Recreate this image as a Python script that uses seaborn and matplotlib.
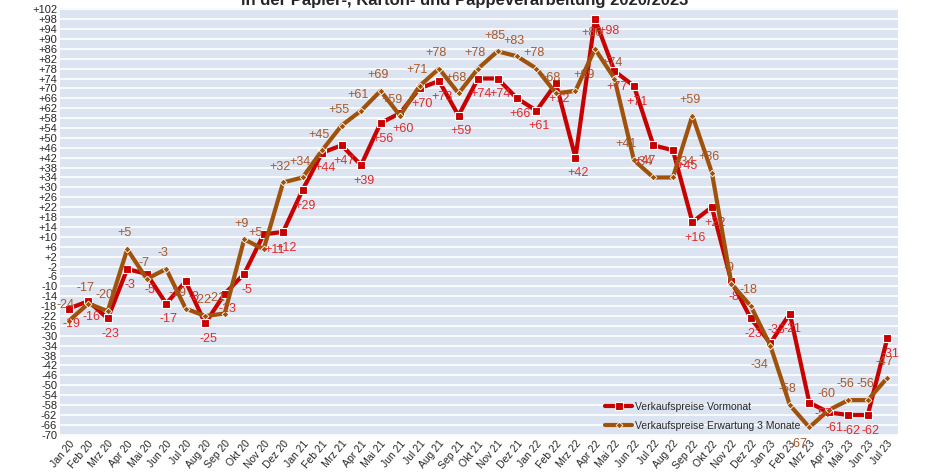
import numpy as np
import pandas as pd
import seaborn as sns
from matplotlib import pyplot as plt

months = ['Jan 20', 'Feb 20', 'Mrz 20', 'Apr 20', 'Mai 20', 'Jun 20', 'Jul 20', 'Aug 20', 'Sep 20', 'Okt 20',
          'Nov 20', 'Dez 20', 'Jan 21', 'Feb 21', 'Mrz 21', 'Apr 21', 'Mai 21', 'Jun 21', 'Jul 21', 'Aug 21',
          'Sep 21', 'Okt 21', 'Nov 21', 'Dez 21', 'Jan 22', 'Feb 22', 'Mrz 22', 'Apr 22', 'Mai 22', 'Jun 22',
          'Jul 22', 'Aug 22', 'Sep 22', 'Okt 22', 'Nov 22', 'Dez 22', 'Jan 23', 'Feb 23', 'Mrz 23', 'Apr 23',
          'Mai 23', 'Jun 23', 'Jul 23']

vormonat = [-19, -16, -23, -3, -5, -17, -8, -25, -13, -5, 11, 12,
            29, 44, 47, 39, 56, 60, 70, 73, 59, 74, 74, 66,
            61, 72, 42, 98, 77, 71, 47, 45, 16, 22, -8, -23,
            -33, -21, -57, -61, -62, -62, -31]

erwartung = [-24, -17, -20, 5, -7, -3, -19, -22, -21, 9, 5, 32,
             34, 45, 55, 61, 69, 59, 71, 78, 68, 78, 85, 83,
             78, 68, 69, 86, 74, 41, 34, 34, 59, 36, -9, -18,
             -34, -58, -67, -60, -56, -56, -47]

label_vormonat = 'Verkaufspreise Vormonat'
label_erwartung = 'Verkaufspreise Erwartung 3 Monate'
title = 'in der Papier-, Karton- und Pappeverarbeitung 2020/2023'

RED = '#c80000'
RED_TXT = '#e62828'
BROWN = '#a0520a'
BROWN_TXT = '#a8582a'

sns.set_style('white')
plt.rcParams['font.family'] = ['Liberation Sans', 'DejaVu Sans']

df = pd.DataFrame({'idx': np.arange(len(months)), 'month': months,
                   'vormonat': vormonat, 'erwartung': erwartung})

fig = plt.figure(figsize=(9.3, 4.72), dpi=100)
ax = fig.add_axes([60 / 930, 1 - 436 / 472, 838 / 930, 428 / 472])
ax.set_facecolor('#dbe4f0')

sns.lineplot(data=df, x='idx', y='vormonat', ax=ax, color=RED, linewidth=3,
             marker='s', markersize=6, markeredgecolor='white', markeredgewidth=0.8,
             label=label_vormonat, zorder=3)
sns.lineplot(data=df, x='idx', y='erwartung', ax=ax, color=BROWN, linewidth=3,
             marker='D', markersize=3.5, markeredgecolor='white', markeredgewidth=0.6,
             label=label_erwartung, zorder=4)

# a few labels nudged sideways where they pile up
brown_nudge = {6: (-6, 7), 8: (-6, 7), 10: (-6, 7), 17: (-6, 7), 25: (-4, 7), 26: (6, 7),
               29: (-6, 7), 30: (-8, 7), 31: (8, 7), 36: (-8, -18), 38: (-8, -16)}
red_nudge = {6: (6, -7), 10: (8, -7), 27: (10, -4), 30: (-6, -7), 31: (10, -7), 36: (4, 14),
             38: (10, -4), 39: (4, -7)}

for i, v in enumerate(erwartung):
    dx, dy = brown_nudge.get(i, (-2, 7))
    ax.annotate(f'{v:+d}', (i, v), xytext=(dx, dy), textcoords='offset points',
                ha='center', va='bottom', fontsize=9, color=BROWN_TXT, zorder=5)
for i, v in enumerate(vormonat):
    dx, dy = red_nudge.get(i, (2, -7))
    ax.annotate(f'{v:+d}', (i, v), xytext=(dx, dy), textcoords='offset points',
                ha='center', va='top', fontsize=9, color=RED_TXT, zorder=5)

yticks = np.arange(-70, 103, 4)
ax.set_yticks(yticks)
ax.set_yticklabels([f'{t:+d}' for t in yticks], fontsize=8)
ax.set_ylim(-70.5, 102.5)
ax.yaxis.grid(True, color='white', linewidth=1.2)
ax.set_axisbelow(True)

ax.set_xticks(df.idx)
ax.set_xticklabels(months, rotation=50, ha='right', rotation_mode='anchor', fontsize=7.5)
ax.set_xlim(-0.45, 42.55)
ax.tick_params(axis='both', length=0, pad=2)
ax.set_xlabel('')
ax.set_ylabel('')
for s in ax.spines.values():
    s.set_visible(False)

ax.legend(loc='lower left', bbox_to_anchor=((596 - 60) / 838, -0.01), frameon=False,
          fontsize=7.5, handlelength=2.6, labelspacing=0.9, handletextpad=0.2)

fig.text(0.5, 1 - 5 / 472, title, ha='center', va='baseline', fontsize=12, fontweight='bold')

fig.savefig('out.png', dpi=100)
